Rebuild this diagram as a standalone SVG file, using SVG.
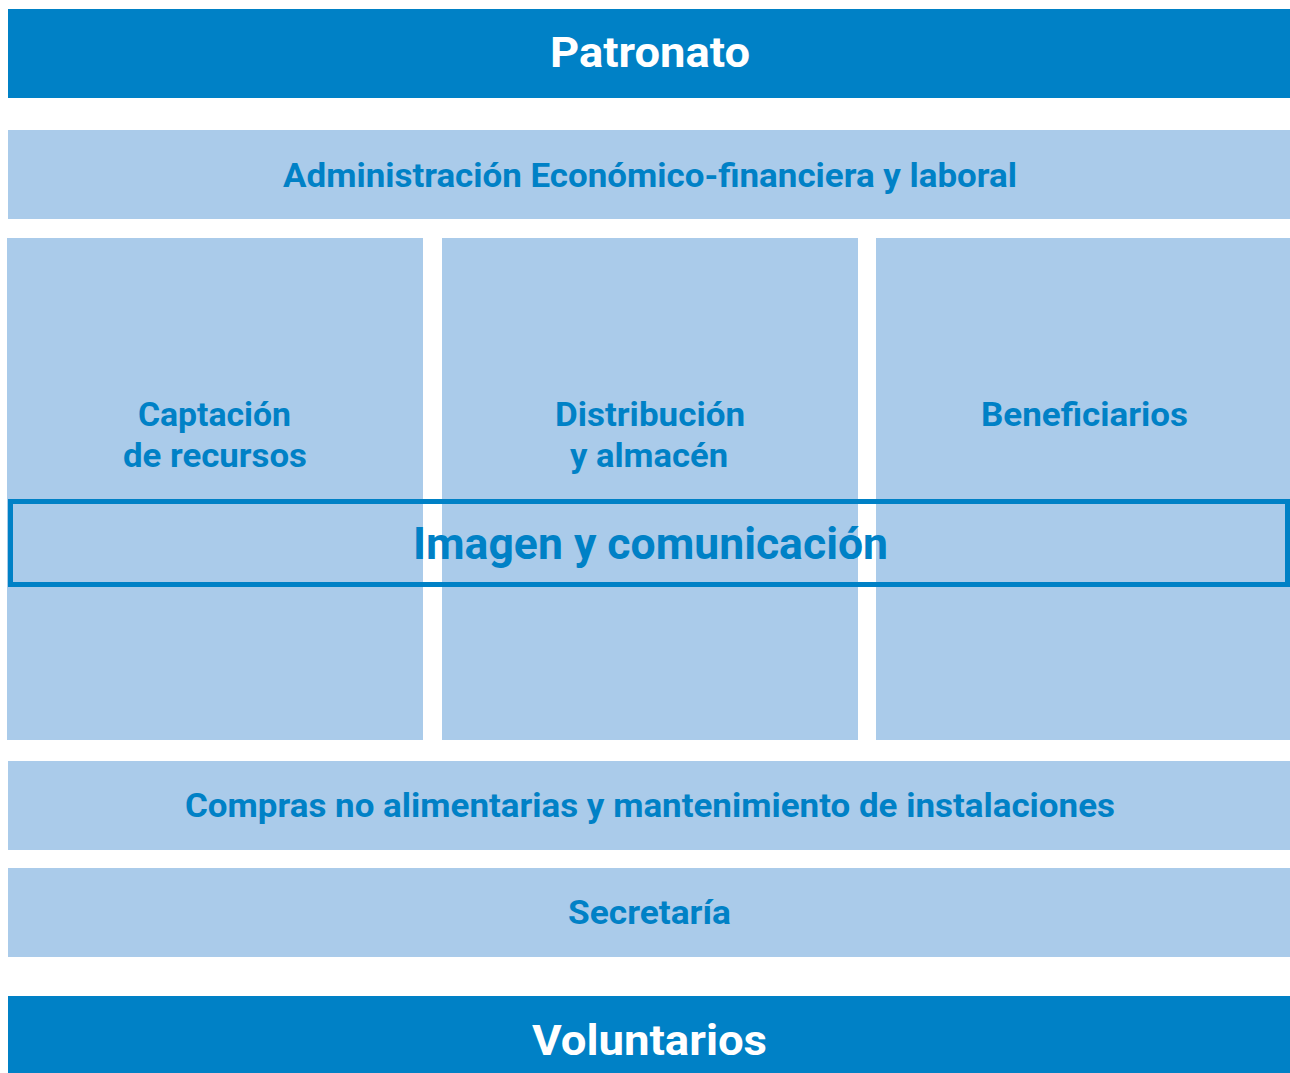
<svg xmlns="http://www.w3.org/2000/svg" width="1290" height="1073" viewBox="0 0 1290 1073">
  <style>
    .dark { fill: #0081C6; }
    .light { fill: #AACBEA; }
    text { font-family: Roboto, "Liberation Sans", sans-serif; font-weight: bold; text-anchor: middle; }
    .wt { fill: #FFFFFF; font-size: 43px; }
    .bt { fill: #0081C6; font-size: 33px; }
    .big { fill: #0081C6; font-size: 44px; }
  </style>
  <rect x="0" y="0" width="1290" height="1073" fill="#FFFFFF"/>
  <g id="patronato">
    <rect class="dark" x="8" y="9" width="1282" height="89"/>
    <text class="wt" x="650" y="67" textLength="200" lengthAdjust="spacingAndGlyphs">Patronato</text>
  </g>
  <g id="administracion">
    <rect class="light" x="8" y="130" width="1282" height="89"/>
    <text class="bt" x="650" y="187" textLength="734" lengthAdjust="spacingAndGlyphs">Administración Económico-financiera y laboral</text>
  </g>
  <g id="captacion">
    <rect class="light" x="7" y="238" width="416" height="502"/>
    <text class="bt" x="214.5" y="426" textLength="153" lengthAdjust="spacingAndGlyphs">Captación</text>
    <text class="bt" x="215" y="467" textLength="184" lengthAdjust="spacingAndGlyphs">de recursos</text>
  </g>
  <g id="distribucion">
    <rect class="light" x="442" y="238" width="416" height="502"/>
    <text class="bt" x="650" y="426" textLength="190" lengthAdjust="spacingAndGlyphs">Distribución</text>
    <text class="bt" x="649" y="467" textLength="158" lengthAdjust="spacingAndGlyphs">y almacén</text>
  </g>
  <g id="beneficiarios">
    <rect class="light" x="876" y="238" width="414" height="502"/>
    <text class="bt" x="1084.5" y="426" textLength="207" lengthAdjust="spacingAndGlyphs">Beneficiarios</text>
  </g>
  <g id="imagen">
    <rect x="10.5" y="501.5" width="1277" height="83" fill="none" stroke="#0081C6" stroke-width="5"/>
    <text class="big" x="650.5" y="559" textLength="475" lengthAdjust="spacingAndGlyphs">Imagen y comunicación</text>
  </g>
  <g id="compras">
    <rect class="light" x="8" y="761" width="1282" height="89"/>
    <text class="bt" x="650" y="817" textLength="930" lengthAdjust="spacingAndGlyphs">Compras no alimentarias y mantenimiento de instalaciones</text>
  </g>
  <g id="secretaria">
    <rect class="light" x="8" y="868" width="1282" height="89"/>
    <text class="bt" x="649.5" y="924" textLength="163" lengthAdjust="spacingAndGlyphs">Secretaría</text>
  </g>
  <g id="voluntarios">
    <rect class="dark" x="8" y="996" width="1282" height="77"/>
    <text class="wt" x="649.5" y="1055" textLength="235" lengthAdjust="spacingAndGlyphs">Voluntarios</text>
  </g>
  <g id="connectors"></g>
</svg>
